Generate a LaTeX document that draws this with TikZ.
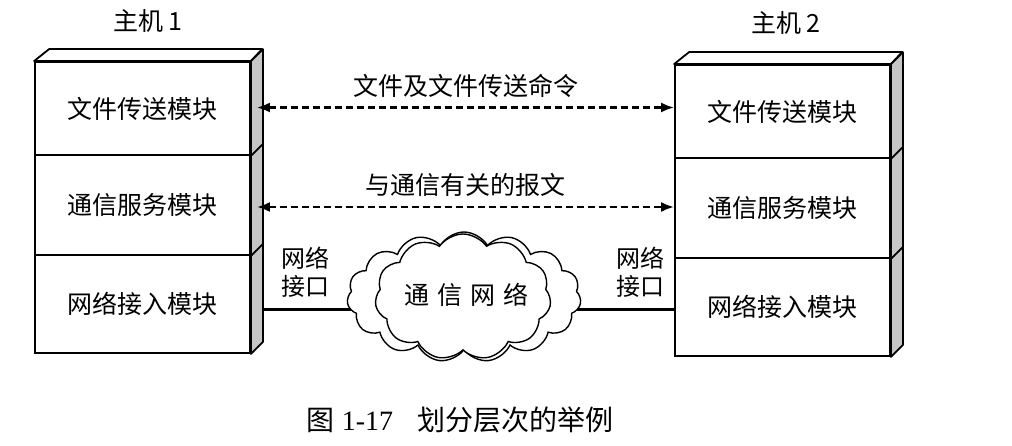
\documentclass[tikz,border=0pt]{standalone}
\usepackage{fontspec}
\setmainfont{Liberation Serif}
\newfontfamily\cjk{Noto Sans CJK SC}
\usetikzlibrary{shapes.symbols,arrows.meta}
\tikzset{
  module/.style={draw, line width=1.8pt, fill=white, minimum width=215pt, inner sep=0pt, font=\cjk\fontsize{25}{30}\selectfont},
  sideface/.style={draw, line width=1.8pt, fill=gray!45, line join=round},
  topface/.style={draw, line width=1.8pt, fill=white, line join=round},
  darrow/.style={line width=2.4pt, dash pattern=on 7pt off 4pt, {Latex[length=13pt,width=10pt]}-{Latex[length=13pt,width=10pt]}},
  lbl/.style={font=\cjk\fontsize{25}{30}\selectfont, inner sep=0pt},
  link/.style={line width=3pt},
  netcloud/.style={cloud, draw, line width=1.4pt, fill=white, inner sep=0pt},
}
\begin{document}
\begin{tikzpicture}[x=1pt,y=-1pt]
\useasboundingbox (0,0) rectangle (1012,446);
% ---------- host 1 ----------
\node[module, minimum height=93pt] (l1) at (142.5,108.5) {文件传送模块};
\node[module, minimum height=100pt] (l2) at (142.5,205) {通信服务模块};
\node[module, minimum height=98pt] (l3) at (142.5,304) {网络接入模块};
\draw[topface] (l1.north west) -- ++(15,-12) -- ++(213,0) -- (l1.north east) -- cycle;
\draw[sideface] (l1.north east) -- ++(12,-12) -- ([shift={(12,-12)}]l3.south east) -- (l3.south east) -- cycle;
\draw[line width=1.8pt] (l1.south east) -- ++(12,-12);
\draw[line width=1.8pt] (l2.south east) -- ++(12,-12);
\node[lbl] (h1) at (148,21) {{\cjk 主机} 1};
% ---------- host 2 ----------
\node[module, minimum height=93pt] (r1) at (782.5,111.5) {文件传送模块};
\node[module, minimum height=100pt] (r2) at (782.5,208) {通信服务模块};
\node[module, minimum height=98pt] (r3) at (782.5,307) {网络接入模块};
\draw[topface] (r1.north west) -- ++(15,-12) -- ++(213,0) -- (r1.north east) -- cycle;
\draw[sideface] (r1.north east) -- ++(12,-12) -- ([shift={(12,-12)}]r3.south east) -- (r3.south east) -- cycle;
\draw[line width=1.8pt] (r1.south east) -- ++(12,-12);
\draw[line width=1.8pt] (r2.south east) -- ++(12,-12);
\node[lbl] (h2) at (786,23) {{\cjk 主机} 2};
% ---------- peer arrows ----------
\coordinate (a1) at ([shift={(6,-1)}]l1.east);
\coordinate (b1) at ([shift={(0,-4)}]r1.west);
\draw[darrow] (a1) -- node[lbl, above=9pt] (t1) {文件及文件传送命令} (b1);
\coordinate (a2) at ([shift={(6,2)}]l2.east);
\coordinate (b2) at ([shift={(0,-1)}]r2.west);
\draw[darrow] (a2) -- node[lbl, above=9pt] (t2) {与通信有关的报文} (b2);
% ---------- network ----------
\coordinate (ls) at ([shift={(12,6)}]l3.east);
\coordinate (rs) at ([shift={(0,3)}]r3.west);
\coordinate (cc) at (464,310);
\draw[link] (ls) -- (cc) -- (rs);
\node[netcloud, cloud puffs=15, cloud puff arc=120, aspect=1.9, minimum width=234pt, minimum height=130pt] (cl) at (464,297) {};
\node[netcloud, cloud puffs=11, cloud puff arc=110, aspect=1.4, minimum width=176pt, minimum height=126pt] (ci) at (463,297) {};
\node[lbl] (cn) at (466,295) {通\hspace{8pt}信\hspace{8pt}网\hspace{8pt}络};
\node[lbl, align=center, font=\cjk\fontsize{24}{28}\selectfont] (n1) at (305,272) {网络\\接口};
\node[lbl, align=center, font=\cjk\fontsize{24}{28}\selectfont] (n2) at (640,272) {网络\\接口};
% ---------- caption ----------
\node[lbl, font=\fontsize{28}{32}\selectfont] (cap) at (460,420) {{\cjk 图} 1-17\hspace{24pt}{\cjk 划分层次的举例}};
\end{tikzpicture}
\end{document}
